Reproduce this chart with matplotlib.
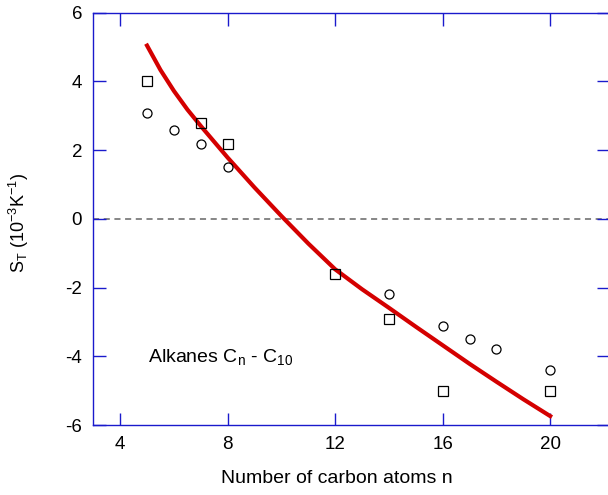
import matplotlib
matplotlib.use('Agg')
import numpy as np
import matplotlib.pyplot as plt

plt.rcParams['font.family'] = ['Liberation Sans', 'DejaVu Sans']
plt.rcParams['mathtext.fontset'] = 'custom'
plt.rcParams['mathtext.rm'] = 'Liberation Sans'
plt.rcParams['axes.unicode_minus'] = False

# open circles
circ_n = [5, 6, 7, 8, 14, 16, 17, 18, 20]
circ_s = [3.09, 2.58, 2.18, 1.50, -2.20, -3.11, -3.51, -3.80, -4.41]

# open squares
sq_n = [5, 7, 8, 12, 14, 16, 20]
sq_s = [4.0, 2.79, 2.18, -1.61, -2.91, -5.02, -5.02]

# red model curve
fit_n = [5, 5.5, 6, 6.5, 7, 8, 9, 10, 11, 12, 13, 14, 15, 16, 17, 18, 19, 20]
fit_s = [5.04, 4.33, 3.72, 3.18, 2.70, 1.78, 0.91, 0.08, -0.72, -1.47, -2.05,
         -2.59, -3.14, -3.68, -4.22, -4.74, -5.25, -5.74]

xticks = [4, 8, 12, 16, 20]
yticks = [-6, -4, -2, 0, 2, 4, 6]

blue = '#1a1acc'

fig = plt.figure(figsize=(6.08, 4.95), dpi=100)
ax = fig.add_axes([93.3 / 608, 1 - 425 / 495, 516 / 608, 412.4 / 495])

ax.axhline(0, color='#666666', lw=1.1, ls=(0, (4, 3)), zorder=1)
ax.plot(fit_n, fit_s, color='#d40000', lw=3.0, zorder=2)
ax.plot(circ_n, circ_s, 'o', mfc='none', mec='black', mew=0.9, ms=6.5, zorder=3)
ax.plot(sq_n, sq_s, 's', mfc='none', mec='black', mew=0.9, ms=6.5, zorder=3)

ax.set_xlim(3, 22.2)
ax.set_ylim(-6, 6)
ax.set_xticks(xticks)
ax.set_yticks(yticks)

for s in ['left', 'bottom', 'top']:
    ax.spines[s].set_color(blue)
    ax.spines[s].set_linewidth(1.0)
ax.spines['right'].set_visible(False)
ax.tick_params(direction='in', length=9, width=1.0, color=blue,
               top=True, right=True, labelsize=13.5, pad=8)

ax.text(5.05, -4.06, r'Alkanes C$_{\mathregular{n}}$ - C$_{\mathregular{10}}$',
        fontsize=14, va='center', ha='left')

ax.set_xlabel('Number of carbon atoms n', fontsize=14)
ax.xaxis.set_label_coords((337 - 93.3) / 516, -0.108)
ax.set_ylabel(r'S$_{\mathregular{T}}$ (10$^{\mathregular{-3}}$K$^{\mathregular{-1}}$)', fontsize=13)
ax.yaxis.set_label_coords(-(93.3 - 31) / 516, 0.49)

fig.savefig('out.png', dpi=100)
